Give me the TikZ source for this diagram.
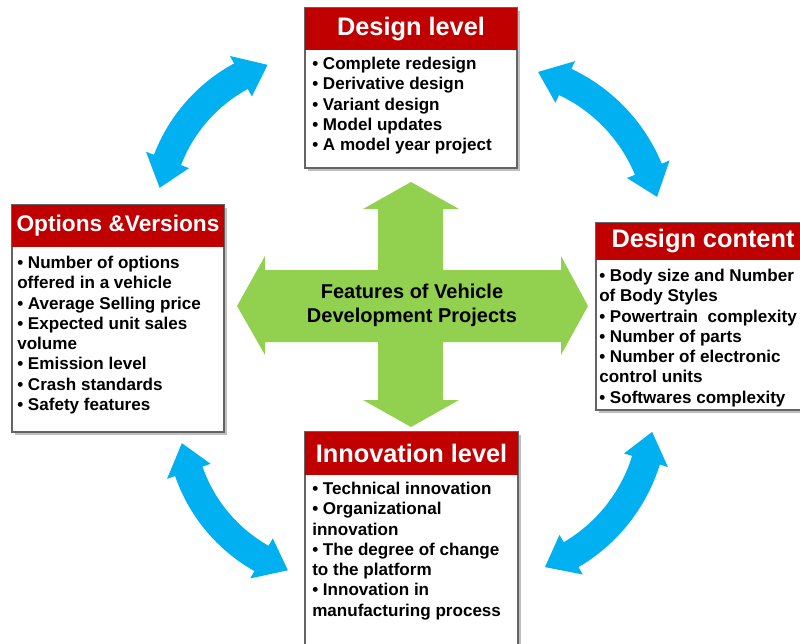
\documentclass[tikz,border=0pt]{standalone}
\usepackage{fontspec}
\setmainfont{Liberation Sans}
\usetikzlibrary{shadows,fit}
\definecolor{boxred}{RGB}{192,0,0}
\definecolor{arrowblue}{RGB}{0,176,240}
\definecolor{crossgreen}{RGB}{146,208,80}
\definecolor{boxline}{RGB}{100,100,100}
% curved double arrow: centre x, centre y, radius, start angle, end angle
\newcommand{\blueArc}[5]{%
  \begin{scope}[shift={(#1,#2)}]
  \pgfmathsetmacro{\dA}{29/#3*180/pi}
  \pgfmathsetmacro{\aS}{#4+\dA}
  \pgfmathsetmacro{\aE}{#5-\dA}
  \pgfmathsetmacro{\rO}{#3+14.5}
  \pgfmathsetmacro{\rI}{#3-14.5}
  \pgfmathsetmacro{\hO}{#3+23}
  \pgfmathsetmacro{\hI}{#3-23}
  \fill[arrowblue] (#4:#3) -- (\aS:\hO) -- (\aS:\rO)
     arc[start angle=\aS, end angle=\aE, radius=\rO]
     -- (\aE:\hO) -- (#5:#3) -- (\aE:\hI) -- (\aE:\rI)
     arc[start angle=\aE, end angle=\aS, radius=\rI]
     -- (\aS:\hI) -- cycle;
  \end{scope}}
\begin{document}
\begin{tikzpicture}[x=0.75pt,y=-0.75pt,
  boxbody/.style={draw=boxline, line width=0.8pt, fill=white, inner sep=0pt,
    drop shadow={shadow xshift=2pt, shadow yshift=-2pt, fill=black!50}},
  titlebar/.style={fill=boxred, inner sep=0pt},
  titletext/.style={inner sep=0pt, text=white,
    font=\bfseries\fontsize{19}{22}\selectfont},
  bodytext/.style={anchor=north west, inner sep=0pt, align=left,
    font=\bfseries\fontsize{12.8}{15.2}\selectfont},
  centertext/.style={align=center, inner sep=0pt,
    font=\bfseries\fontsize{15}{18}\selectfont}]
\useasboundingbox (0,0) rectangle (800,643);

% curved blue arrows
\blueArc{317}{217}{160}{190.5}{252}
\blueArc{494}{233}{167}{285.3}{347.5}
\blueArc{486.5}{410.7}{167}{7.3}{69.5}
\blueArc{340}{419}{160}{109}{171.3}

% green cross
\fill[crossgreen] (411,182) -- (459,209) -- (443,209) -- (443,270) -- (561,270)
  -- (561,256) -- (588,306) -- (561,355) -- (561,342) -- (443,342) -- (443,400)
  -- (459,400) -- (411,427) -- (363,400) -- (378,400) -- (378,342) -- (265,342)
  -- (265,355) -- (237,306) -- (265,256) -- (265,270) -- (378,270) -- (378,209)
  -- (363,209) -- cycle;
\node[centertext] (ctr) at (412,305) {Features of Vehicle\\Development Projects};

% Design level
\node[boxbody, fit={(305,8) (517,168)}] (dl) {};
\node[titlebar, fit={(305,8) (517,50)}] (dlt) {};
\node[titletext] (dltx) at (dlt.center) {Design level};
\node[bodytext] (dlx) at (312,57) {• Complete redesign\\• Derivative design\\• Variant design\\• Model updates\\• A model year project};

% Options & Versions
\node[boxbody, fit={(12,205) (224,432)}] (ov) {};
\node[titlebar, fit={(12,205) (224,247)}] (ovt) {};
\node[titletext, font=\bfseries\fontsize{17}{20}\selectfont] (ovtx) at (ovt.center) {Options \&Versions};
\node[bodytext] (ovx) at (17,256) {• Number of options\\offered in a vehicle\\• Average Selling price\\• Expected unit sales\\volume\\• Emission level\\• Crash standards\\• Safety features};

% Design content
\node[boxbody, fit={(596,223) (806,410)}] (dc) {};
\node[titlebar, fit={(596,223) (806,260)}] (dct) {};
\node[titletext] (dctx) at ([xshift=1.5pt]dct.center) {Design content};
\node[bodytext] (dcx) at (599,269) {• Body size and Number\\of Body Styles\\• Powertrain~ complexity\\• Number of parts\\• Number of electronic\\control units\\• Softwares complexity};

% Innovation level
\node[boxbody, fit={(305,432) (518,660)}] (il) {};
\node[titlebar, fit={(305,432) (518,475)}] (ilt) {};
\node[titletext] (iltx) at (ilt.center) {Innovation level};
\node[bodytext] (ilx) at (312,482) {• Technical innovation\\• Organizational\\innovation\\• The degree of change\\to the platform\\• Innovation in\\manufacturing process};
\end{tikzpicture}
\end{document}
